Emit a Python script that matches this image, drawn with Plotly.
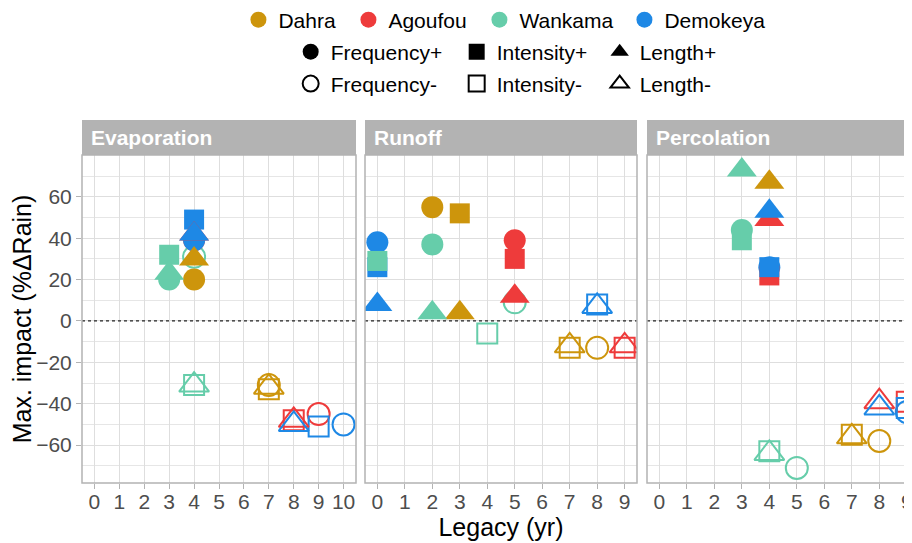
"""
Max. impact of rainfall-regime changes (% of rain) against legacy length,
faceted by water-balance term, for the four Sahel sites.
"""

import plotly.graph_objects as go

FONT = "Liberation Sans, Arial, sans-serif"

SITE_COLORS = {
    "Dahra": "#CD950C",
    "Agoufou": "#EE3B3B",
    "Wankama": "#66CDAA",
    "Demokeya": "#1E88E5",
}
TYPES = ["Frequency+", "Intensity+", "Length+", "Frequency-", "Intensity-", "Length-"]
TYPE_SYMBOLS = {
    "Frequency+": "circle", "Intensity+": "square", "Length+": "triangle-up",
    "Frequency-": "circle-open", "Intensity-": "square-open", "Length-": "triangle-up-open",
}
TYPE_SIZES = {"Frequency": 22, "Intensity": 20, "Length": 26}

PANELS = ["Evaporation", "Runoff", "Percolation"]
X_TICKS = [list(range(0, 11)), list(range(0, 10)), list(range(0, 10))]
Y_TICKS = [-60, -40, -20, 0, 20, 40, 60]

# Evaporation
evap_site = ["Dahra", "Agoufou", "Demokeya", "Wankama",
             "Dahra", "Agoufou", "Demokeya", "Wankama",
             "Dahra", "Agoufou", "Demokeya", "Wankama",
             "Dahra", "Agoufou", "Demokeya", "Wankama",
             "Demokeya", "Wankama",
             "Dahra", "Agoufou", "Demokeya", "Wankama"]
evap_type = ["Frequency-"] * 4 + ["Intensity-"] * 4 + ["Length-"] * 4 + \
            ["Frequency+"] * 4 + ["Intensity+"] * 2 + ["Length+"] * 4
evap_legacy = [7, 9, 10, 4,
               7, 8, 9, 4,
               7, 8, 8, 4,
               4, 4, 4, 3,
               4, 3,
               4, 4, 4, 3]
evap_impact = [-31, -45, -50, 31,
               -33, -48, -51, -31,
               -32, -48, -50, -31,
               20, 39, 39, 20,
               49, 32,
               30, 42, 42, 23]

# Runoff
runoff_site = ["Dahra", "Wankama",
               "Dahra", "Agoufou", "Demokeya", "Wankama",
               "Dahra", "Agoufou", "Demokeya",
               "Dahra", "Agoufou", "Demokeya", "Wankama",
               "Dahra", "Agoufou", "Demokeya", "Wankama",
               "Dahra", "Agoufou", "Demokeya", "Wankama"]
runoff_type = ["Frequency-"] * 2 + ["Intensity-"] * 4 + ["Length-"] * 3 + \
              ["Frequency+"] * 4 + ["Intensity+"] * 4 + ["Length+"] * 4
runoff_legacy = [8, 5,
                 7, 9, 8, 4,
                 7, 9, 8,
                 2, 5, 0, 2,
                 3, 5, 0, 0,
                 3, 5, 0, 2]
runoff_impact = [-13, 9,
                 -13, -13, 8, -6,
                 -12, -12, 7,
                 55, 39, 38, 37,
                 52, 30, 26, 29,
                 4, 12, 8, 4]

# Percolation
perc_site = ["Dahra", "Demokeya", "Wankama",
             "Dahra", "Agoufou", "Demokeya", "Wankama",
             "Dahra", "Agoufou", "Demokeya", "Wankama",
             "Demokeya", "Wankama",
             "Agoufou", "Demokeya", "Wankama",
             "Dahra", "Agoufou", "Demokeya", "Wankama"]
perc_type = ["Frequency-"] * 3 + ["Intensity-"] * 4 + ["Length-"] * 4 + \
            ["Frequency+"] * 2 + ["Intensity+"] * 3 + ["Length+"] * 4
perc_legacy = [8, 9, 5,
               7, 9, 9, 4,
               7, 8, 8, 4,
               4, 3,
               4, 4, 3,
               4, 4, 4, 3]
perc_impact = [-58, -44, -71,
               -55, -39, -42, -63,
               -56, -39, -42, -64,
               26, 44,
               22, 26, 39,
               67, 49, 53, 73]

PANEL_DATA = [
    (evap_site, evap_type, evap_legacy, evap_impact),
    (runoff_site, runoff_type, runoff_legacy, runoff_impact),
    (perc_site, perc_type, perc_legacy, perc_impact),
]

# panel geometry (the page puts the figure 8 px in from the top-left corner)
W, H = 904, 535
ML, MT, MB = 74, 147, 60
PW, PH = W - ML, H - MT - MB
DOMAINS = [(0, 274 / PW), (283 / PW, 555 / PW), (565 / PW, 1.0)]
X_RANGES = [[-0.5, 10.5], [-0.45, 9.45], [-0.45, 9.19]]
Y_RANGE = [-78.3, 80.2]
STRIP_H = 35 / PH
TXT = 21

fig = go.Figure()

for i, (sites, types, legacy, impact) in enumerate(PANEL_DATA):
    colors = [SITE_COLORS[s] for s in sites]
    fig.add_trace(go.Scatter(
        x=legacy, y=impact, mode="markers", showlegend=False,
        xaxis=f"x{i + 1}" if i else "x", yaxis=f"y{i + 1}" if i else "y",
        text=[f"{s} {t}" for s, t in zip(sites, types)], hoverinfo="text+x+y",
        marker=dict(
            color=colors,
            symbol=[TYPE_SYMBOLS[t] for t in types],
            size=[TYPE_SIZES[t[:-1]] for t in types],
            line=dict(color=colors, width=[2 if t.endswith("-") else 0 for t in types]),
            opacity=1,
        ),
    ))

# legend-only traces
SITE_LEG_WIDTH = {"Dahra": 65, "Agoufou": 86, "Wankama": 100, "Demokeya": 101}
for s in SITE_COLORS:
    fig.add_trace(go.Scatter(x=[None], y=[None], mode="markers", name=s, legend="legend",
                             legendwidth=SITE_LEG_WIDTH[s],
                             marker=dict(color=SITE_COLORS[s], symbol="circle", size=16)))
LEG_WIDTH = {"Frequency": 121, "Intensity": 98, "Length": 80}
for t in TYPES:
    fig.add_trace(go.Scatter(
        x=[None], y=[None], mode="markers", name=t,
        legend="legend2" if t.endswith("+") else "legend3",
        legendwidth=LEG_WIDTH[t[:-1]],
        marker=dict(color="black", symbol=TYPE_SYMBOLS[t], size=16,
                    line=dict(color="black", width=2 if t.endswith("-") else 0)),
    ))

legend_common = dict(orientation="h", xref="container", yref="container", yanchor="middle",
                     xanchor="left", font=dict(family=FONT, size=TXT, color="black"),
                     bgcolor="rgba(0,0,0,0)", itemclick=False, itemdoubleclick=False)

layout = dict(
    width=W, height=H,
    margin=dict(l=ML, r=0, t=MT, b=MB),
    paper_bgcolor="white", plot_bgcolor="white",
    font=dict(family=FONT),
    legend=dict(legend_common, x=0.2549, y=0.9775),
    legend2=dict(legend_common, x=0.3127, y=0.9178),
    legend3=dict(legend_common, x=0.3127, y=0.858),
    shapes=[], annotations=[],
)

for i, name in enumerate(PANELS):
    suffix = str(i + 1) if i else ""
    x0, x1 = DOMAINS[i]
    x1_draw = 1.03 if i == 2 else x1
    layout[f"xaxis{suffix}"] = dict(
        domain=[x0, x1], range=X_RANGES[i], anchor=f"y{suffix}",
        tickvals=X_TICKS[i], ticks="outside", ticklen=5, tickwidth=1.1, tickcolor="#B3B3B3",
        tickfont=dict(size=TXT, color="#4D4D4D"), ticklabelstandoff=-5,
        ticklabeloverflow="allow",
        showgrid=True, gridcolor="#DEDEDE", gridwidth=1.2, zeroline=False, showline=False,
        fixedrange=True,
    )
    layout[f"yaxis{suffix}"] = dict(
        domain=[0, 1], range=Y_RANGE, anchor=f"x{suffix}",
        tickvals=Y_TICKS, ticks="outside" if i == 0 else "", ticklen=5, tickwidth=1.1,
        tickcolor="#B3B3B3", showticklabels=(i == 0),
        tickfont=dict(size=TXT, color="#4D4D4D"),
        showgrid=True, gridcolor="#DEDEDE", gridwidth=1.2, zeroline=False, showline=False,
        minor=dict(tickvals=[-70, -50, -30, -10, 10, 30, 50, 70], showgrid=True,
                   gridcolor="#E6E6E6", gridwidth=0.7, ticks=""),
        fixedrange=True,
    )
    # strip
    layout["shapes"].append(dict(type="rect", xref="paper", yref="paper",
                                 x0=x0, x1=x1_draw, y0=1, y1=1 + STRIP_H,
                                 fillcolor="#B3B3B3", line=dict(width=0)))
    layout["annotations"].append(dict(text=f"<b>{name}</b>", xref="paper", yref="paper",
                                      x=x0, xshift=7, xanchor="left",
                                      y=1 + STRIP_H / 2, yanchor="middle", showarrow=False,
                                      font=dict(size=TXT, color="white", family=FONT)))
    # zero line
    layout["shapes"].append(dict(type="line", xref=f"x{suffix} domain", yref=f"y{suffix}",
                                 x0=0, x1=1, y0=0, y1=0,
                                 line=dict(color="#222222", width=1.3, dash="dot")))
    # panel border
    layout["shapes"].append(dict(type="rect", xref="paper", yref="paper", layer="above",
                                 x0=x0, x1=x1_draw, y0=0, y1=1,
                                 line=dict(color="#B3B3B3", width=1.5)))

layout["xaxis2"]["title"] = dict(text="Legacy (yr)", font=dict(size=25, color="black"), standoff=5)
layout["yaxis"]["title"] = dict(text="Max. impact (%ΔRain)", font=dict(size=25, color="black"), standoff=4)

fig.update_layout(layout)
fig.write_html("out.html")
